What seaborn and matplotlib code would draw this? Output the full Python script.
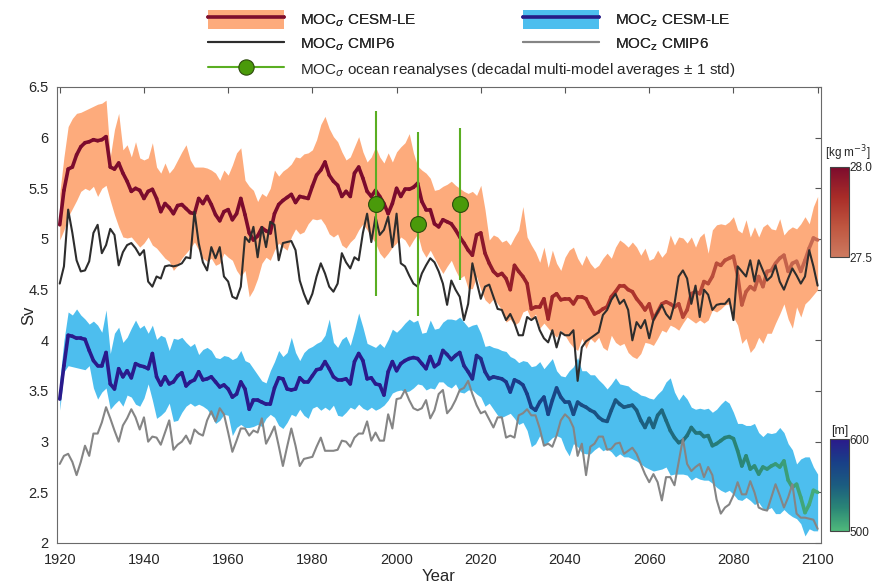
import numpy as np
import pandas as pd
import matplotlib
matplotlib.use("Agg")
import matplotlib.pyplot as plt
import seaborn as sns
from matplotlib.collections import LineCollection
from matplotlib.colors import LinearSegmentedColormap, Normalize
from matplotlib.patches import Patch
from matplotlib.lines import Line2D

years = np.arange(1920, 2101)

# MOC in density space, CESM large ensemble: ensemble mean and spread (Sv)
sigma_mean = [
    5.14, 5.48, 5.69, 5.71, 5.83, 5.91, 5.95, 5.96, 5.98, 5.97,
    5.98, 6.01, 5.71, 5.69, 5.75, 5.65, 5.57, 5.47, 5.50, 5.48,
    5.40, 5.47, 5.49, 5.40, 5.27, 5.35, 5.31, 5.25, 5.33, 5.34,
    5.30, 5.26, 5.25, 5.40, 5.35, 5.42, 5.34, 5.24, 5.18, 5.27,
    5.29, 5.19, 5.25, 5.40, 5.24, 5.06, 4.99, 5.03, 5.11, 5.08,
    5.06, 5.25, 5.34, 5.38, 5.41, 5.44, 5.36, 5.42, 5.41, 5.40,
    5.52, 5.63, 5.68, 5.76, 5.63, 5.57, 5.53, 5.42, 5.47, 5.42,
    5.65, 5.71, 5.60, 5.47, 5.42, 5.48, 5.42, 5.35, 5.25, 5.35,
    5.50, 5.42, 5.49, 5.49, 5.51, 5.55, 5.37, 5.29, 5.29, 5.15,
    5.12, 5.19, 5.17, 5.15, 5.09, 5.02, 4.96, 4.89, 4.84, 5.04,
    5.06, 4.86, 4.76, 4.68, 4.64, 4.66, 4.61, 4.50, 4.74, 4.68,
    4.63, 4.56, 4.31, 4.33, 4.33, 4.41, 4.21, 4.43, 4.46, 4.40,
    4.41, 4.41, 4.36, 4.43, 4.43, 4.41, 4.33, 4.26, 4.28, 4.31,
    4.33, 4.43, 4.48, 4.54, 4.54, 4.50, 4.48, 4.41, 4.36, 4.30,
    4.36, 4.21, 4.28, 4.36, 4.38, 4.36, 4.33, 4.36, 4.23, 4.30,
    4.46, 4.48, 4.46, 4.58, 4.56, 4.63, 4.76, 4.74, 4.79, 4.81,
    4.83, 4.64, 4.35, 4.48, 4.53, 4.50, 4.63, 4.53, 4.68, 4.69,
    4.76, 4.81, 4.84, 4.68, 4.76, 4.78, 4.68, 4.79, 4.91, 5.01, 4.99,
]
sigma_hi = [
    5.45, 5.81, 6.11, 6.19, 6.24, 6.25, 6.27, 6.29, 6.31, 6.33,
    6.34, 6.37, 5.81, 6.08, 6.24, 5.88, 5.93, 5.81, 5.96, 5.80,
    5.78, 5.80, 5.95, 5.71, 5.65, 5.75, 5.65, 5.70, 5.78, 5.86,
    5.93, 5.78, 5.71, 5.71, 5.71, 5.70, 5.68, 5.65, 5.58, 5.68,
    5.63, 5.73, 5.85, 5.90, 5.58, 5.52, 5.48, 5.37, 5.45, 5.42,
    5.50, 5.68, 5.62, 5.67, 5.70, 5.74, 5.81, 5.80, 5.84, 5.85,
    5.88, 5.98, 6.13, 6.21, 6.09, 6.01, 5.96, 5.86, 5.78, 5.81,
    5.91, 6.01, 5.86, 5.76, 5.81, 5.91, 5.81, 5.75, 5.85, 5.76,
    5.86, 5.91, 5.95, 6.04, 5.85, 5.72, 5.68, 5.65, 5.60, 5.48,
    5.49, 5.52, 5.54, 5.57, 5.53, 5.50, 5.47, 5.45, 5.47, 5.43,
    5.53, 5.29, 4.99, 5.04, 5.02, 4.97, 4.99, 4.94, 5.02, 5.09,
    5.32, 5.02, 4.94, 4.87, 4.77, 4.92, 4.72, 4.89, 4.76, 4.69,
    4.82, 4.89, 4.92, 4.81, 4.74, 4.84, 4.76, 4.71, 4.74, 4.81,
    4.86, 4.81, 4.92, 4.99, 4.96, 4.92, 4.97, 4.92, 4.84, 4.91,
    4.79, 4.81, 4.89, 4.82, 4.87, 5.04, 4.94, 5.02, 5.01, 4.96,
    5.02, 4.92, 5.02, 5.06, 4.86, 5.09, 5.14, 5.15, 5.14, 5.17,
    5.22, 5.09, 5.06, 5.19, 5.02, 5.12, 5.02, 5.12, 5.15, 5.10,
    5.09, 5.20, 5.04, 5.09, 5.12, 5.10, 5.15, 5.22, 5.15, 5.32, 5.42,
]
sigma_lo = [
    4.99, 5.09, 5.22, 5.30, 5.38, 5.47, 5.50, 5.48, 5.52, 5.42,
    5.50, 5.53, 5.38, 5.24, 5.12, 5.02, 5.01, 5.02, 4.97, 4.92,
    4.96, 5.02, 4.94, 4.91, 4.86, 4.81, 4.78, 4.69, 4.74, 4.81,
    4.86, 4.91, 4.97, 4.89, 4.81, 4.78, 4.81, 4.74, 4.76, 4.86,
    4.82, 4.79, 4.69, 4.63, 4.69, 4.43, 4.50, 4.61, 4.76, 4.82,
    4.79, 4.89, 4.96, 4.92, 4.89, 5.02, 5.10, 5.05, 5.07, 5.15,
    5.20, 5.19, 5.20, 5.14, 5.05, 5.02, 5.05, 4.94, 4.91, 4.97,
    5.01, 5.09, 5.15, 5.09, 5.02, 4.96, 4.86, 4.81, 4.86, 4.92,
    4.96, 5.02, 4.99, 4.92, 4.99, 5.05, 4.89, 4.82, 4.89, 4.81,
    4.73, 4.66, 4.73, 4.79, 4.69, 4.61, 4.64, 4.51, 4.51, 4.63,
    4.50, 4.40, 4.36, 4.41, 4.36, 4.30, 4.18, 4.21, 4.15, 4.18,
    4.28, 4.30, 4.20, 4.26, 4.12, 4.17, 4.12, 4.07, 4.03, 4.10,
    4.05, 3.98, 3.93, 3.90, 4.02, 3.92, 4.02, 3.98, 4.03, 3.93,
    3.90, 4.05, 3.98, 3.95, 3.97, 3.88, 3.84, 3.82, 3.87, 3.98,
    3.97, 3.95, 4.02, 4.10, 4.08, 4.15, 4.13, 4.10, 4.17, 4.23,
    4.20, 4.17, 4.20, 4.17, 4.20, 4.30, 4.28, 4.31, 4.35, 4.36,
    4.23, 4.15, 3.97, 4.02, 3.88, 3.93, 4.03, 3.97, 4.07, 4.07,
    4.17, 4.26, 4.36, 4.21, 4.12, 4.33, 4.23, 4.36, 4.40, 4.45, 4.50,
]
# MOC in density space, CMIP6 multi-model mean (Sv)
sigma_cmip6 = [
    4.56, 4.73, 5.29, 5.06, 4.79, 4.68, 4.69, 4.78, 5.06, 5.14,
    4.86, 4.94, 5.10, 5.04, 4.74, 4.87, 4.94, 4.96, 4.91, 4.84,
    4.89, 4.58, 4.53, 4.63, 4.61, 4.73, 4.74, 4.73, 4.74, 4.76,
    4.82, 4.81, 5.27, 4.96, 4.77, 4.69, 4.92, 4.81, 4.92, 4.63,
    4.58, 4.43, 4.41, 4.53, 5.02, 4.97, 5.12, 4.82, 5.12, 4.92,
    5.17, 5.14, 4.79, 4.96, 4.97, 4.98, 4.89, 4.59, 4.46, 4.36,
    4.46, 4.63, 4.76, 4.66, 4.53, 4.48, 4.56, 4.86, 4.77, 4.71,
    4.82, 4.79, 5.06, 5.25, 4.97, 5.22, 5.04, 5.09, 5.22, 4.92,
    5.25, 4.76, 4.73, 4.64, 4.56, 4.53, 4.66, 4.74, 4.81, 4.77,
    4.68, 4.56, 4.35, 4.59, 4.50, 4.43, 4.20, 4.36, 4.76, 4.58,
    4.41, 4.53, 4.55, 4.43, 4.31, 4.30, 4.20, 4.26, 4.17, 4.05,
    4.05, 4.23, 4.20, 4.23, 4.10, 4.02, 3.98, 4.10, 3.93, 4.08,
    4.05, 4.05, 4.10, 3.60, 3.93, 3.99, 4.02, 4.05, 4.08, 4.25,
    4.30, 4.40, 4.46, 4.36, 4.40, 4.30, 4.00, 4.18, 4.12, 4.20,
    4.02, 4.20, 4.28, 4.35, 4.26, 4.21, 4.36, 4.63, 4.69, 4.61,
    4.36, 4.54, 4.23, 4.50, 4.45, 4.30, 4.35, 4.36, 4.36, 4.41,
    4.20, 4.73, 4.68, 4.63, 4.79, 4.58, 4.79, 4.69, 4.59, 4.63,
    4.74, 4.58, 4.50, 4.61, 4.71, 4.64, 4.56, 4.63, 4.89, 4.73, 4.54,
]
# Density of the MOC maximum along the CESM-LE mean (kg m-3)
sigma_dens = [
    28.00, 28.00, 28.00, 28.00, 28.00, 28.00, 28.00, 28.00, 28.00, 28.00,
    28.00, 28.00, 28.00, 28.00, 28.00, 28.00, 28.00, 28.00, 28.00, 28.00,
    28.00, 28.00, 28.00, 28.00, 28.00, 28.00, 28.00, 28.00, 28.00, 28.00,
    28.00, 28.00, 28.00, 28.00, 28.00, 28.00, 28.00, 28.00, 28.00, 28.00,
    28.00, 28.00, 28.00, 28.00, 28.00, 28.00, 28.00, 28.00, 28.00, 28.00,
    28.00, 28.00, 28.00, 28.00, 28.00, 28.00, 28.00, 28.00, 28.00, 28.00,
    28.00, 28.00, 28.00, 28.00, 28.00, 28.00, 28.00, 28.00, 28.00, 28.00,
    28.00, 28.00, 28.00, 28.00, 28.00, 28.00, 28.00, 28.00, 28.00, 28.00,
    28.00, 28.00, 28.00, 28.00, 28.00, 28.00, 28.00, 28.00, 28.00, 28.00,
    27.99, 27.99, 27.98, 27.98, 27.97, 27.97, 27.96, 27.96, 27.95, 27.95,
    27.94, 27.94, 27.93, 27.93, 27.92, 27.92, 27.91, 27.91, 27.90, 27.90,
    27.89, 27.89, 27.88, 27.88, 27.88, 27.87, 27.87, 27.87, 27.86, 27.86,
    27.86, 27.85, 27.85, 27.85, 27.84, 27.84, 27.84, 27.83, 27.83, 27.83,
    27.82, 27.82, 27.82, 27.81, 27.81, 27.80, 27.80, 27.80, 27.79, 27.79,
    27.78, 27.78, 27.77, 27.77, 27.76, 27.76, 27.75, 27.75, 27.74, 27.74,
    27.73, 27.73, 27.72, 27.72, 27.71, 27.71, 27.70, 27.70, 27.69, 27.69,
    27.68, 27.67, 27.66, 27.66, 27.65, 27.65, 27.64, 27.64, 27.63, 27.63,
    27.62, 27.62, 27.61, 27.61, 27.60, 27.60, 27.59, 27.59, 27.58, 27.58, 27.57,
]

# MOC in depth space, CESM large ensemble: ensemble mean and spread (Sv)
z_mean = [
    3.42, 3.75, 4.05, 4.04, 4.02, 4.02, 4.01, 3.90, 3.80, 3.75,
    3.75, 3.88, 3.57, 3.52, 3.72, 3.64, 3.70, 3.63, 3.77, 3.75,
    3.74, 3.72, 3.87, 3.64, 3.56, 3.64, 3.57, 3.59, 3.65, 3.68,
    3.55, 3.59, 3.61, 3.69, 3.61, 3.62, 3.64, 3.59, 3.54, 3.56,
    3.52, 3.44, 3.47, 3.59, 3.52, 3.32, 3.41, 3.41, 3.39, 3.37,
    3.37, 3.53, 3.63, 3.62, 3.52, 3.51, 3.52, 3.63, 3.59, 3.59,
    3.65, 3.71, 3.72, 3.79, 3.72, 3.64, 3.61, 3.61, 3.62, 3.57,
    3.79, 3.87, 3.80, 3.62, 3.63, 3.57, 3.56, 3.46, 3.69, 3.79,
    3.70, 3.77, 3.80, 3.82, 3.83, 3.82, 3.77, 3.72, 3.84, 3.74,
    3.77, 3.90, 3.86, 3.81, 3.85, 3.88, 3.75, 3.69, 3.62, 3.85,
    3.82, 3.69, 3.62, 3.64, 3.63, 3.62, 3.59, 3.49, 3.61, 3.59,
    3.56, 3.47, 3.34, 3.31, 3.39, 3.44, 3.27, 3.41, 3.53, 3.44,
    3.39, 3.39, 3.27, 3.39, 3.36, 3.34, 3.31, 3.29, 3.24, 3.21,
    3.20, 3.31, 3.41, 3.37, 3.34, 3.35, 3.36, 3.31, 3.21, 3.14,
    3.23, 3.14, 3.26, 3.31, 3.21, 3.11, 3.04, 2.99, 3.01, 3.06,
    3.14, 3.09, 3.09, 3.05, 3.06, 2.96, 2.98, 3.01, 3.04, 3.05,
    3.03, 2.91, 2.76, 2.86, 2.73, 2.76, 2.68, 2.75, 2.73, 2.76,
    2.78, 2.75, 2.81, 2.62, 2.55, 2.58, 2.45, 2.30, 2.38, 2.52, 2.50,
]
z_hi = [
    3.60, 4.00, 4.28, 4.25, 4.31, 4.25, 4.21, 4.16, 4.19, 4.15,
    4.08, 4.30, 3.87, 4.07, 4.13, 3.98, 4.03, 4.12, 4.20, 4.12,
    4.15, 4.07, 4.15, 4.01, 4.05, 4.03, 3.90, 4.02, 4.01, 4.03,
    3.98, 3.94, 3.97, 3.86, 3.91, 3.93, 3.90, 3.83, 3.82, 3.85,
    3.84, 3.81, 3.83, 3.90, 3.80, 3.78, 3.72, 3.66, 3.60, 3.58,
    3.70, 3.79, 3.90, 3.84, 3.88, 4.03, 3.88, 3.80, 3.88, 3.92,
    3.94, 3.97, 3.99, 4.05, 4.21, 3.98, 3.93, 4.01, 4.04, 3.95,
    4.10, 4.27, 4.13, 3.97, 3.95, 3.93, 3.97, 3.93, 4.01, 4.11,
    4.08, 4.12, 4.17, 4.21, 4.18, 4.20, 4.07, 4.08, 4.20, 4.11,
    4.12, 4.18, 4.21, 4.21, 4.20, 4.23, 4.18, 4.13, 4.15, 4.16,
    4.07, 3.94, 3.95, 3.93, 3.92, 3.90, 3.89, 3.84, 3.82, 3.78,
    3.80, 3.79, 3.74, 3.75, 3.79, 3.72, 3.77, 3.82, 3.70, 3.65,
    3.64, 3.70, 3.74, 3.83, 3.70, 3.70, 3.66, 3.66, 3.61, 3.57,
    3.52, 3.57, 3.63, 3.57, 3.56, 3.55, 3.51, 3.49, 3.46, 3.45,
    3.43, 3.42, 3.47, 3.51, 3.59, 3.63, 3.49, 3.41, 3.47, 3.42,
    3.34, 3.32, 3.33, 3.32, 3.33, 3.29, 3.32, 3.37, 3.41, 3.38,
    3.29, 3.18, 3.18, 3.16, 3.16, 3.18, 3.09, 3.05, 3.09, 3.08,
    3.09, 3.14, 3.09, 2.98, 2.92, 2.78, 2.83, 2.85, 2.85, 2.75, 2.68,
]
z_lo = [
    3.31, 3.69, 3.75, 3.74, 3.73, 3.72, 3.71, 3.75, 3.53, 3.42,
    3.49, 3.53, 3.32, 3.37, 3.41, 3.35, 3.46, 3.44, 3.37, 3.35,
    3.43, 3.57, 3.41, 3.23, 3.26, 3.30, 3.38, 3.20, 3.21, 3.29,
    3.35, 3.38, 3.35, 3.37, 3.35, 3.32, 3.26, 3.18, 3.21, 3.27,
    3.26, 3.06, 3.14, 3.17, 3.14, 3.14, 3.15, 3.17, 3.15, 3.23,
    3.27, 3.24, 3.16, 3.13, 3.19, 3.27, 3.25, 3.32, 3.26, 3.23,
    3.33, 3.35, 3.31, 3.34, 3.31, 3.36, 3.26, 3.25, 3.29, 3.34,
    3.32, 3.37, 3.33, 3.31, 3.34, 3.31, 3.33, 3.36, 3.41, 3.48,
    3.50, 3.51, 3.49, 3.50, 3.53, 3.57, 3.56, 3.51, 3.53, 3.52,
    3.59, 3.59, 3.55, 3.53, 3.57, 3.49, 3.48, 3.51, 3.51, 3.47,
    3.44, 3.35, 3.38, 3.32, 3.26, 3.24, 3.26, 3.28, 3.23, 3.17,
    3.19, 3.11, 2.95, 2.98, 3.06, 2.96, 3.00, 3.04, 3.06, 3.04,
    2.93, 2.86, 2.98, 2.95, 2.89, 2.88, 2.88, 2.92, 2.95, 2.91,
    2.93, 2.90, 2.85, 2.88, 2.85, 2.85, 2.83, 2.81, 2.78, 2.75,
    2.73, 2.71, 2.72, 2.73, 2.75, 2.67, 2.68, 2.68, 2.68, 2.67,
    2.62, 2.65, 2.63, 2.62, 2.62, 2.59, 2.55, 2.52, 2.50, 2.52,
    2.48, 2.43, 2.42, 2.45, 2.42, 2.38, 2.40, 2.34, 2.33, 2.35,
    2.29, 2.29, 2.33, 2.29, 2.26, 2.24, 2.19, 2.07, 2.14, 2.12, 2.12,
]
# MOC in depth space, CMIP6 multi-model mean (Sv)
z_cmip6 = [
    2.78, 2.86, 2.88, 2.80, 2.67, 2.80, 2.96, 2.86, 3.08, 3.08,
    3.19, 3.34, 3.23, 3.11, 3.00, 3.16, 3.23, 3.32, 3.24, 3.12,
    3.24, 3.00, 3.05, 3.04, 2.97, 3.09, 3.21, 2.92, 2.97, 3.00,
    3.06, 2.98, 3.12, 3.08, 3.06, 3.21, 3.30, 3.20, 3.33, 3.27,
    3.09, 2.90, 3.01, 3.13, 3.13, 3.06, 3.11, 3.09, 3.23, 2.98,
    3.06, 3.15, 2.96, 2.76, 2.95, 3.13, 2.96, 2.76, 2.83, 2.84,
    2.85, 2.95, 3.04, 2.91, 2.91, 2.91, 2.92, 3.01, 3.00, 2.95,
    3.04, 3.08, 3.08, 3.20, 3.01, 3.09, 3.01, 3.01, 3.27, 3.13,
    3.42, 3.43, 3.51, 3.41, 3.33, 3.31, 3.33, 3.41, 3.23, 3.31,
    3.47, 3.51, 3.28, 3.33, 3.41, 3.51, 3.53, 3.60, 3.47, 3.36,
    3.28, 3.30, 3.22, 3.14, 3.24, 3.24, 3.04, 3.06, 3.04, 3.26,
    3.28, 3.32, 3.26, 3.26, 3.13, 2.96, 2.98, 2.95, 3.06, 3.21,
    3.27, 3.23, 3.14, 2.86, 2.98, 2.67, 2.95, 2.98, 3.05, 3.05,
    2.92, 2.93, 2.98, 2.99, 2.88, 2.91, 2.94, 2.88, 2.78, 2.68,
    2.60, 2.68, 2.60, 2.42, 2.65, 2.65, 2.57, 2.80, 3.03, 2.78,
    2.71, 2.75, 2.78, 2.65, 2.75, 2.67, 2.43, 2.29, 2.35, 2.38,
    2.47, 2.60, 2.48, 2.48, 2.61, 2.50, 2.35, 2.33, 2.32, 2.45,
    2.58, 2.47, 2.35, 2.45, 2.58, 2.29, 2.25, 2.25, 2.24, 2.23, 2.14,
]
# Depth of the MOC maximum along the CESM-LE mean (m)
z_depth = [
    600, 600, 600, 600, 600, 600, 600, 600, 600, 600,
    600, 600, 600, 600, 600, 600, 600, 600, 600, 600,
    600, 600, 600, 600, 600, 600, 600, 600, 600, 600,
    600, 600, 600, 600, 600, 600, 600, 600, 600, 600,
    600, 600, 600, 600, 600, 600, 600, 600, 600, 600,
    600, 600, 600, 600, 600, 600, 600, 600, 600, 600,
    600, 600, 600, 600, 600, 600, 600, 600, 600, 600,
    600, 600, 600, 600, 600, 600, 600, 600, 600, 600,
    600, 600, 600, 600, 600, 600, 600, 600, 600, 600,
    598, 597, 596, 595, 594, 593, 592, 591, 590, 589,
    588, 587, 586, 585, 584, 582, 581, 580, 579, 578,
    577, 576, 575, 574, 573, 572, 571, 570, 569, 568,
    567, 566, 565, 564, 563, 562, 561, 560, 559, 558,
    557, 556, 555, 554, 553, 552, 551, 550, 549, 548,
    547, 546, 545, 544, 543, 542, 541, 540, 539, 538,
    537, 536, 535, 534, 533, 532, 531, 530, 529, 528,
    527, 526, 525, 524, 523, 522, 521, 520, 519, 518,
    516, 515, 514, 513, 512, 511, 510, 509, 508, 507, 506,
]

# Ocean reanalyses: decadal multi-model averages and one standard deviation
rean_years = [1995, 2005, 2015]
rean_mean = [5.35, 5.15, 5.35]
rean_std = [0.91, 0.91, 0.75]

x_ticks = [1920, 1940, 1960, 1980, 2000, 2020, 2040, 2060, 2080, 2100]
y_ticks = [2, 2.5, 3, 3.5, 4, 4.5, 5, 5.5, 6, 6.5]

ORANGE = "#fdab7c"
BLUE = "#4dbeee"
DARK = "#2d2d2d"
GREY = "#858585"
GREEN_LINE = "#5aae22"
GREEN_FACE = "#4a9a0a"

cmap_sigma = LinearSegmentedColormap.from_list(
    "sigma", ["#cd7a60", "#bf5640", "#a82c28", "#7c0b2d"])
cmap_z = LinearSegmentedColormap.from_list(
    "depth", ["#4fb97b", "#2a8676", "#1b5c80", "#193f88", "#2a1a8c"])
norm_sigma = Normalize(27.5, 28.0)
norm_z = Normalize(500, 600)

df = pd.DataFrame({
    "Year": years,
    "sigma_mean": sigma_mean, "sigma_hi": sigma_hi, "sigma_lo": sigma_lo,
    "sigma_cmip6": sigma_cmip6, "sigma_dens": sigma_dens,
    "z_mean": z_mean, "z_hi": z_hi, "z_lo": z_lo,
    "z_cmip6": z_cmip6, "z_depth": z_depth,
})
rean = pd.DataFrame({"Year": rean_years, "MOC": rean_mean, "std": rean_std})

sns.set_theme(style="white")
plt.rcParams["font.family"] = ["Liberation Sans", "DejaVu Sans"]
plt.rcParams["axes.unicode_minus"] = False

fig = plt.figure(figsize=(8.72, 5.86), dpi=100)
ax = fig.add_axes([57 / 872, 43 / 586, 764 / 872, 456 / 586])

# ensemble spread bands
ax.fill_between(df["Year"], df["sigma_lo"], df["sigma_hi"], color=ORANGE, lw=0, zorder=1)
ax.fill_between(df["Year"], df["z_lo"], df["z_hi"], color=BLUE, lw=0, zorder=1)


def colored_line(x, y, c, cmap, norm, lw):
    pts = np.column_stack([x, y]).reshape(-1, 1, 2)
    segs = np.concatenate([pts[:-1], pts[1:]], axis=1)
    c = np.asarray(c, dtype=float)
    lc = LineCollection(segs, cmap=cmap, norm=norm, linewidths=lw, zorder=2)
    lc.set_array((c[:-1] + c[1:]) / 2)
    lc.set_capstyle("round")
    lc.set_joinstyle("round")
    ax.add_collection(lc)


colored_line(df["Year"], df["sigma_mean"], df["sigma_dens"], cmap_sigma, norm_sigma, 2.6)
colored_line(df["Year"], df["z_mean"], df["z_depth"], cmap_z, norm_z, 2.6)

# CMIP6 multi-model means
sns.lineplot(data=df, x="Year", y="sigma_cmip6", color=DARK, lw=1.5, ax=ax, zorder=3)
sns.lineplot(data=df, x="Year", y="z_cmip6", color=GREY, lw=1.5, ax=ax, zorder=3)

# reanalyses with +-1 std
ax.errorbar(rean["Year"], rean["MOC"], yerr=rean["std"], fmt="none",
            ecolor=GREEN_LINE, elinewidth=1.5, capsize=0, zorder=4)
sns.scatterplot(data=rean, x="Year", y="MOC", s=130, color=GREEN_FACE,
                edgecolor="#2c4a0c", linewidth=0.8, ax=ax, zorder=5)

ax.set_xlim(1919.35, 2100.8)
ax.set_ylim(2, 6.5)
ax.set_xticks(x_ticks)
ax.set_yticks(y_ticks)
ax.set_yticklabels([f"{v:g}" for v in y_ticks])
ax.set_xlabel("Year", fontsize=12, color="#262626")
ax.set_ylabel("Sv", fontsize=12, color="#262626")
ax.xaxis.set_label_coords(0.5, -0.058)
ax.yaxis.set_label_coords(-0.027, 0.5)
ax.tick_params(direction="in", top=True, right=True, length=4, width=0.8,
               color="#555555", labelsize=10.5, labelcolor="#262626")
ax.tick_params(axis="x", pad=7)
ax.tick_params(axis="y", pad=6)
for sp in ax.spines.values():
    sp.set_visible(True)
    sp.set_color("#6a6a6a")
    sp.set_linewidth(0.8)

# colorbars for the colour of the mean lines
cax1 = fig.add_axes([830 / 872, 1 - 257 / 586, 19 / 872, 90 / 586])
cb1 = fig.colorbar(plt.cm.ScalarMappable(norm=norm_sigma, cmap=cmap_sigma),
                   cax=cax1, ticks=[27.5, 28.0])
cb1.ax.set_yticklabels(["27.5", "28.0"])
cax2 = fig.add_axes([830 / 872, 1 - 531 / 586, 19 / 872, 92 / 586])
cb2 = fig.colorbar(plt.cm.ScalarMappable(norm=norm_z, cmap=cmap_z),
                   cax=cax2, ticks=[500, 600])
cb2.ax.set_yticklabels(["500", "600"])
for cb in (cb1, cb2):
    cb.ax.tick_params(length=0, labelsize=8.5, pad=0.5, labelcolor="#262626")
    cb.outline.set_edgecolor("#444444")
    cb.outline.set_linewidth(0.8)
fig.text(825 / 872, 1 - 153 / 586, "[kg m$^{-3}$]", fontsize=8.5,
         ha="left", va="center", color="#262626")
fig.text(831 / 872, 1 - 431 / 586, "[m]", fontsize=9,
         ha="left", va="center", color="#262626")

# legend
h_sig = (Patch(facecolor=ORANGE, edgecolor="none"), Line2D([], [], color="#7d0d2d", lw=2.6))
h_sigc = Line2D([], [], color=DARK, lw=1.5)
h_z = (Patch(facecolor=BLUE, edgecolor="none"), Line2D([], [], color="#261b86", lw=2.6))
h_zc = Line2D([], [], color=GREY, lw=1.5)
h_rean = Line2D([], [], color=GREEN_LINE, lw=1.5, marker="o", markersize=11,
                markerfacecolor=GREEN_FACE, markeredgecolor="#2c4a0c", markeredgewidth=0.8)

leg_kw = dict(frameon=False, fontsize=11, handlelength=5.0, handleheight=1.5,
              handletextpad=1.0, labelspacing=0.35, borderpad=0, borderaxespad=0)
legA = fig.legend([h_sig, h_sigc, h_z, h_zc],
                  ["MOC$_\\sigma$ CESM-LE", "MOC$_\\sigma$ CMIP6",
                   "MOC$_\\mathrm{z}$ CESM-LE", "MOC$_\\mathrm{z}$ CMIP6"],
                  ncol=2, columnspacing=7.0, loc="upper left",
                  bbox_to_anchor=(208 / 872, 1 - 10 / 586), **leg_kw)
legB = fig.legend([h_rean],
                  ["MOC$_\\sigma$ ocean reanalyses (decadal multi-model averages \u00b1 1 std)"],
                  loc="upper left", bbox_to_anchor=(208 / 872, 1 - 60 / 586), **leg_kw)
fig.add_artist(legA)

fig.savefig("out.png", dpi=100)
